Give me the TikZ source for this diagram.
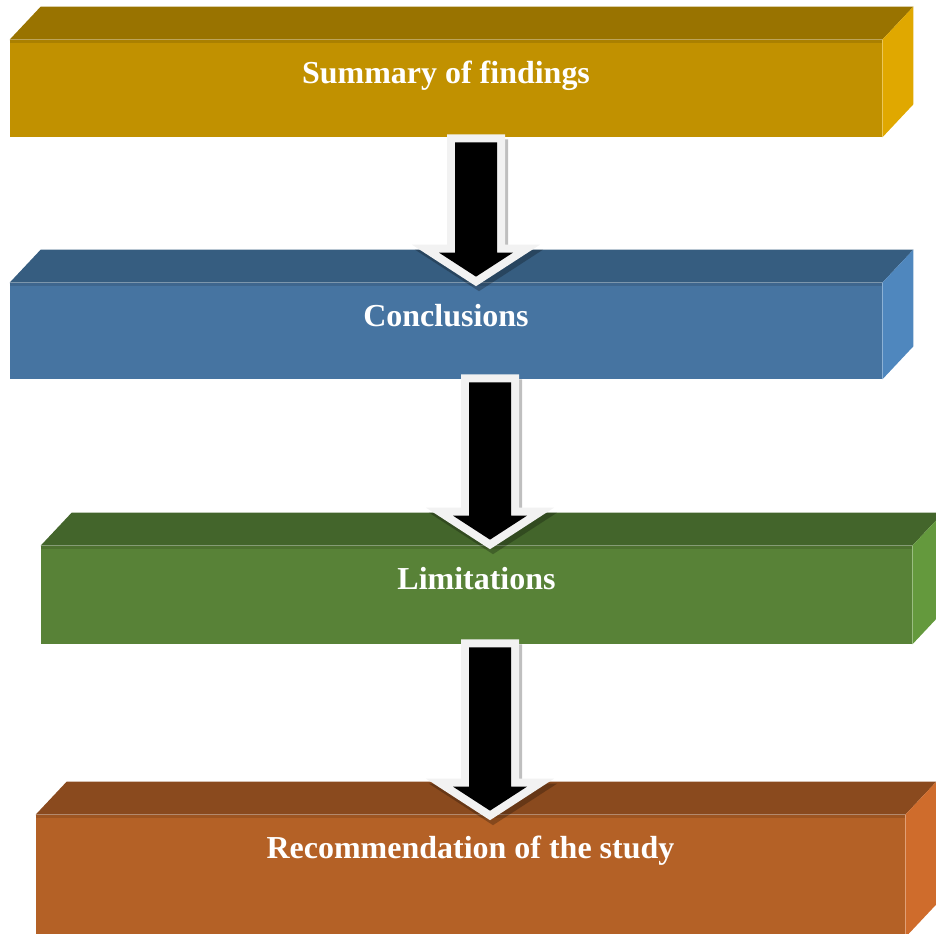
\documentclass[tikz,border=0pt]{standalone}
\usepackage{fontspec}
\setmainfont{Liberation Serif}
\usepackage{xcolor}
\usepackage{tikz}
\usetikzlibrary{calc}

\definecolor{goldfront}{HTML}{C19100}
\definecolor{goldtop}{HTML}{997300}
\definecolor{goldside}{HTML}{E0A800}
\definecolor{steelfront}{HTML}{4674A1}
\definecolor{steeltop}{HTML}{365D80}
\definecolor{steelside}{HTML}{4F87BE}
\definecolor{leaffront}{HTML}{588237}
\definecolor{leaftop}{HTML}{43652B}
\definecolor{leafside}{HTML}{64993D}
\definecolor{rustfront}{HTML}{B46126}
\definecolor{rusttop}{HTML}{8A4A1E}
\definecolor{rustside}{HTML}{CF6C2C}
\definecolor{arrowrim}{HTML}{F2F2F2}

% block arrow outline from shaft top #1 to tip #2
\newcommand{\arrowoutline}[2]{($(#1)+(-21,0)$) -- ($(#2)+(-21,-24)$) -- ($(#2)+(-37,-24)$) -- (#2) -- ($(#2)+(37,-24)$) -- ($(#2)+(21,-24)$) -- ($(#1)+(21,0)$) -- cycle}
\newcommand{\fatarrow}[2]{%
  \fill[arrowshade] \arrowoutline{#1}{#2};
  \draw[rim] \arrowoutline{#1}{#2};
  \fill[black] \arrowoutline{#1}{#2};}

\begin{document}
\begin{tikzpicture}[x=0.2mm,y=-0.2mm,
  face/.style={inner sep=0pt,text height=8.6mm,text=white,align=center,
    font=\fontsize{18.2}{21}\selectfont\bfseries},
  rim/.style={draw=arrowrim,line width=3.2mm,line join=miter},
  arrowshade/.style={draw=black,fill=black,opacity=.25,line width=3.2mm,line join=miter,
    transform canvas={shift={(0.6mm,-1mm)}}}]
\useasboundingbox (0,0) rectangle (936,933);
\clip (0,0) rectangle (936,933);
\node[face,fill=goldfront,minimum width=174.4mm,text depth=10.8mm] (s1) at (446,88.5) {Summary of findings};
\node[face,fill=steelfront,minimum width=174.4mm,text depth=10.6mm] (s2) at (446,331) {Conclusions};
\node[face,fill=leaffront,minimum width=174.2mm,text depth=11mm] (s3) at (476.5,595) {Limitations};
\node[face,fill=rustfront,minimum width=173.8mm,text depth=15.8mm] (s4) at (470.5,876) {Recommendation of the study};
% top and right faces
\foreach \b/\col in {s1/gold,s2/steel,s3/leaf,s4/rust} {
  \fill[fill=\col top] (\b.north west) -- ++(31,-33) -- ([shift={(31,-33)}]\b.north east) -- (\b.north east) -- cycle;
  \fill[fill=\col side] (\b.north east) -- ++(31,-33) -- ([shift={(31,-33)}]\b.south east) -- (\b.south east) -- cycle;
  \draw[line width=0.6mm,\col front!88!black] ([yshift=-0.3mm]\b.north west) -- ([yshift=-0.3mm]\b.north east);
}
\fatarrow{[shift={(30,5)}]s1.south}{[shift={(30,-6)}]s2.north}
\fatarrow{[shift={(44,3)}]s2.south}{[shift={(13.5,-6)}]s3.north}
\fatarrow{[shift={(13.5,3)}]s3.south}{[shift={(19.5,-4)}]s4.north}
\end{tikzpicture}
\end{document}
